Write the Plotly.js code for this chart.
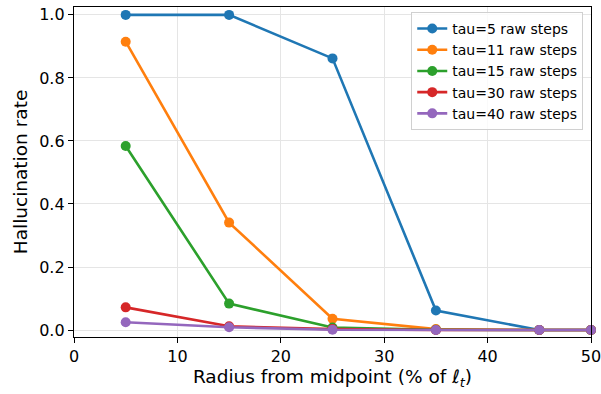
<!DOCTYPE html>
<html><head><meta charset="utf-8">
<script src="https://cdn.plot.ly/plotly-3.0.1.min.js"></script>
<style>html,body{margin:0;padding:0;background:#fff}#c{width:601px;height:394px}</style>
</head><body><div id="c"></div>
<script>
const radius = [5, 15, 25, 35, 45, 50];
const seriesNames = ["tau=5 raw steps", "tau=11 raw steps", "tau=15 raw steps", "tau=30 raw steps", "tau=40 raw steps"];
const tau5 = [1.0, 1.0, 0.862, 0.062, 0.0, 0.0];
const tau11 = [0.915, 0.341, 0.036, 0.003, 0.0, 0.0];
const tau15 = [0.584, 0.084, 0.008, 0.001, 0.0, 0.0];
const tau30 = [0.072, 0.012, 0.003, 0.0, 0.0, 0.0];
const tau40 = [0.025, 0.009, 0.001, 0.0, 0.0, 0.0];
const colors = ["#1f77b4", "#ff7f0e", "#2ca02c", "#d62728", "#9467bd"];
const allSeries = [tau5, tau11, tau15, tau30, tau40];

const traces = allSeries.map((ys, i) => ({
  x: radius, y: ys, name: seriesNames[i], type: "scatter", mode: "lines+markers",
  line: {color: colors[i], width: 2.6}, marker: {color: colors[i], size: 10},
  cliponaxis: false
}));

const font = {family: "DejaVu Sans, sans-serif", color: "#000"};
const layout = {
  width: 601, height: 394,
  margin: {l: 74, r: 10, t: 7, b: 57},
  paper_bgcolor: "#fff", plot_bgcolor: "#fff",
  font: Object.assign({size: 13}, font),
  showlegend: true,
  legend: {x: 0.985, y: 0.985, xanchor: "right", yanchor: "top",
    bgcolor: "rgba(255,255,255,0.8)", bordercolor: "#d0d0d0", borderwidth: 1,
    font: Object.assign({size: 14}, font), tracegroupgap: 0, itemwidth: 30},
  xaxis: {range: [0, 50], tickvals: [0, 10, 20, 30, 40, 50],
    showgrid: true, gridcolor: "#e5e5e5", gridwidth: 1, zeroline: false,
    showline: true, linecolor: "#000", linewidth: 1.2, mirror: true,
    ticks: "outside", ticklen: 5, tickcolor: "#000", ticklabeloverflow: "allow",
    tickfont: Object.assign({size: 16}, font),
    title: {text: "Radius from midpoint (% of <i>ℓ<sub>t</sub></i>)", font: Object.assign({size: 18.5}, font), standoff: 4}},
  yaxis: {range: [-0.022, 1.025], tickvals: [0, 0.2, 0.4, 0.6, 0.8, 1.0], ticktext: ["0.0","0.2","0.4","0.6","0.8","1.0"],
    showgrid: true, gridcolor: "#e5e5e5", gridwidth: 1, zeroline: false,
    showline: true, linecolor: "#000", linewidth: 1.2, mirror: true,
    ticks: "outside", ticklen: 5, tickcolor: "#000",
    tickfont: Object.assign({size: 16}, font),
    title: {text: "Hallucination rate", font: Object.assign({size: 18.5}, font), standoff: 6}}
};
Plotly.newPlot("c", traces, layout, {displayModeBar: false, staticPlot: true});
</script></body></html>
